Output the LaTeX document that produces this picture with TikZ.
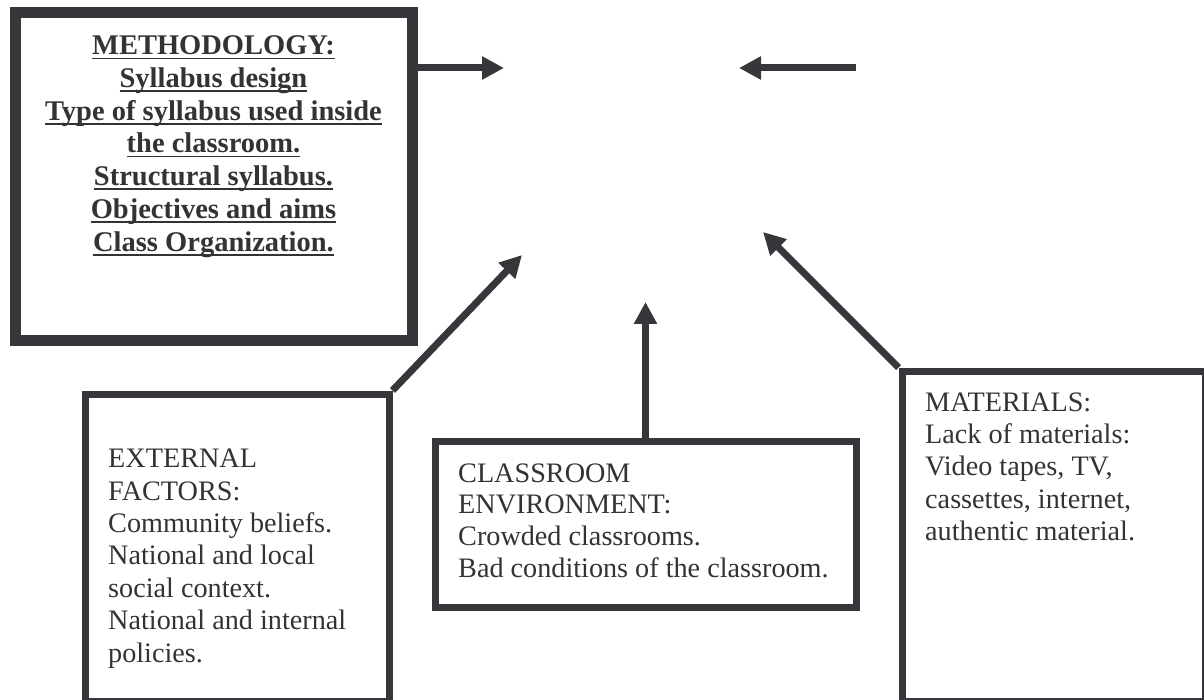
\documentclass[tikz,border=0pt]{standalone}
\usepackage{fontspec}
\setmainfont{Liberation Serif}
\usetikzlibrary{arrows.meta}
\definecolor{ink}{RGB}{55,54,59}
\definecolor{txt}{RGB}{51,51,51}
\newcommand\myul[1]{\setbox0\hbox{#1}\rlap{\rule[-4.5pt]{\wd0}{1.8pt}}\box0}
\begin{document}
\begin{tikzpicture}[x=1pt,y=-1pt,
  box/.style={draw=ink, line width=7pt, inner sep=0pt},
  thickbox/.style={draw=ink, line width=11pt, inner sep=0pt},
  conn/.style={draw=ink, line width=7pt, -{Triangle[length=22pt,width=22pt]}},
  bodytext/.style={inner sep=0pt, text=txt, align=left, anchor=north west, font=\fontsize{28.2}{32.4}\selectfont},
]
\useasboundingbox (0,0) rectangle (1204,700);
% boxes
\node[thickbox, minimum width=397pt, minimum height=328pt] (meth) at (213.5,177) {};
\node[box, minimum width=304pt, minimum height=307pt] (ext) at (237,547.5) {};
\node[box, minimum width=421pt, minimum height=166pt] (class) at (645.5,524) {};
\node[box, minimum width=303pt, minimum height=330pt] (mat) at (1053.5,536) {};
% texts
\node[inner sep=0pt, text=txt, align=center, anchor=north, font=\bfseries\fontsize{28.5}{32.7}\selectfont] (methtext) at (213.5,35.8)
 {\myul{METHODOLOGY:}\\\myul{Syllabus design}\\\myul{Type of syllabus used inside}\\\myul{the classroom.}\\\myul{Structural syllabus.}\\\myul{Objectives and aims}\\\myul{Class Organization.}};
\node[bodytext] (exttext) at (108,448.8)
 {EXTERNAL\\FACTORS:\\Community beliefs.\\National and local\\social context.\\National and internal\\policies.};
\node[bodytext, font=\fontsize{28.2}{31.7}\selectfont] (classtext) at (458,463.3)
 {CLASSROOM\\ENVIRONMENT:\\Crowded classrooms.\\Bad conditions of the classroom.};
\node[bodytext, font=\fontsize{28.2}{32.3}\selectfont] (mattext) at (925,392.3)
 {MATERIALS:\\Lack of materials:\\Video tapes, TV,\\cassettes, internet,\\authentic material.};
% free ends
\coordinate (tipA) at (504,68);
\coordinate (startB) at (856,68);
\coordinate (tipB) at (739,68);
\coordinate (tipC) at (522,255);
\coordinate (tipD) at (645.5,302);
\coordinate (tipE) at (763,232);
% connectors
\draw[conn] (meth.east |- tipA) -- (tipA);
\draw[conn] (startB) -- (tipB);
\draw[conn] (ext.north east) -- (tipC);
\draw[conn] (class.north) -- (tipD);
\draw[conn] (mat.north west) -- (tipE);
\end{tikzpicture}
\end{document}
